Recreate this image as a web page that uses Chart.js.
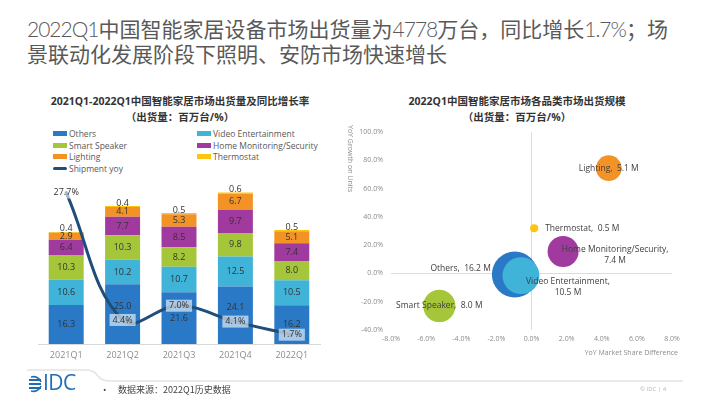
<!DOCTYPE html>
<html><head><meta charset="utf-8">
<script src="https://cdn.jsdelivr.net/npm/chart.js@4"></script>
<style>
body{margin:0;background:#fff;font-family:"Open Sans","Noto Sans CJK SC",sans-serif;}
#page{position:relative;width:710px;height:399px;overflow:hidden;background:#fff;}
.abs{position:absolute;white-space:nowrap;}
.lt{font-family:"Lato","Open Sans",sans-serif;font-weight:300;letter-spacing:-1px;}
.ctitle{font-size:10.5px;font-weight:bold;color:#333;text-align:center;line-height:16px;font-family:"Open Sans","Noto Sans CJK SC",sans-serif;}
.leg{position:absolute;font-size:8.5px;color:#595959;line-height:11px;white-space:nowrap;}
.leg i{position:absolute;left:-16px;top:3px;width:14px;height:5px;}
canvas{position:absolute;}
</style></head><body>
<div id="page">
  <div class="abs" style="left:27px;top:16px;font-size:21px;line-height:24px;color:#595959;font-family:'Noto Sans CJK SC',sans-serif;"><span class="lt">2022Q1</span>中国智能家居设备市场出货量为<span class="lt">4778</span>万台，同比增长<span class="lt">1.7%</span>；场<br>景联动化发展阶段下照明、安防市场快速增长</div>

  <div class="abs ctitle" style="left:0;width:360px;top:93px;">2021Q1-2022Q1中国智能家居市场出货量及同比增长率<br>（出货量：百万台/%）</div>
  <div class="abs ctitle" style="left:337px;width:360px;top:93px;">2022Q1中国智能家居市场各品类市场出货规模<br>（出货量：百万台/%）</div>

  <div id="legend"></div>

  <canvas id="barChart" width="360" height="195" style="left:0;top:170px;"></canvas>
  <canvas id="bubbleChart" width="355" height="225" style="left:355px;top:120px;"></canvas>

  <div class="abs" style="left:348px;top:125px;font-size:7px;color:#8c8c8c;transform-origin:0 0;transform:translate(7px,0) rotate(90deg);">YoY Growth on Units</div>
  <div class="abs" style="right:32px;top:348px;font-size:7px;color:#8c8c8c;">YoY Market Share Difference</div>

  <svg class="abs" style="left:0;top:360px;" width="710" height="39">
    <path d="M27 10 L86 10 Q94 10 98 16 Q102 21 110 21 L683 21" fill="none" stroke="#e3e3e3" stroke-width="1.5"/>
    <g fill="#1f6db3">
      <rect x="29" y="19" width="12" height="2"/>
      <rect x="29" y="23" width="12" height="2"/>
      <rect x="29" y="27" width="12" height="2"/>
    </g>
    <path d="M31 17 A8 8 0 0 1 41 22" fill="none" stroke="#1f6db3" stroke-width="1.6"/>
    <path d="M31 31 A8 8 0 0 0 41 26" fill="none" stroke="#1f6db3" stroke-width="1.6"/>
  </svg>
  <div class="abs" style="left:43px;top:369px;font-size:21px;line-height:26px;color:#1f6db3;font-family:'Open Sans',sans-serif;letter-spacing:-0.5px;">IDC</div>
  <div class="abs" style="left:103px;top:383px;font-size:9px;color:#444;">•</div>
  <div class="abs" style="left:118px;top:383px;font-size:9px;color:#444;font-family:'Noto Sans CJK SC',sans-serif;">数据来源：2022Q1历史数据</div>
  <div class="abs" style="left:640px;top:385px;font-size:6px;color:#b5b5b5;">© IDC | 4</div>
</div>

<script>
// ---------- Left chart data ----------
const quarters = ['2021Q1','2021Q2','2021Q3','2021Q4','2022Q1'];
const others       = [16.3, 25.0, 21.6, 24.1, 16.2];
const videoEnt     = [10.6, 10.2, 10.7, 12.5, 10.5];
const smartSpeaker = [10.3, 10.3, 8.2, 9.8, 8.0];
const homeMonitor  = [6.4, 7.7, 8.5, 9.7, 7.4];
const lighting     = [2.9, 4.1, 5.3, 6.7, 5.1];
const thermostat   = [0.4, 0.4, 0.5, 0.6, 0.5];
const shipmentYoy  = [27.7, 4.4, 7.0, 4.1, 1.7];

const seriesNames = ['Others','Video Entertainment','Smart Speaker','Home Monitoring/Security','Lighting','Thermostat'];
const lineName = 'Shipment yoy';

// ---------- Right chart data ----------
const bubbleCats   = ['Others','Video Entertainment','Smart Speaker','Home Monitoring/Security','Lighting','Thermostat'];
const shareDiff    = [-0.95, -0.6, -5.25, 1.8, 4.4, 0.15];
const unitGrowth   = [-0.7, -1.5, -23.0, 15.5, 74.5, 32.0];
const shipmentM    = [16.2, 10.5, 8.0, 7.4, 5.1, 0.5];

// ---------- Styles ----------
const colors = {
  'Others':'#2a79c6',
  'Video Entertainment':'#3fb3d8',
  'Smart Speaker':'#a6c63a',
  'Home Monitoring/Security':'#a13a9e',
  'Lighting':'#f39325',
  'Thermostat':'#fdc50f'
};
const lineColor = '#1e4e79';
const FONT = '"Open Sans","Noto Sans CJK SC",sans-serif';

// ---------- Legend (HTML) ----------
(function(){
  const leg = document.getElementById('legend');
  const cols = [69, 213];
  const rows = [128, 139.5, 151, 162.5];
  const items = seriesNames.map(n=>({name:n,color:colors[n],line:false}));
  items.push({name:lineName,color:lineColor,line:true});
  items.forEach((it,i)=>{
    const d = document.createElement('div');
    d.className='leg';
    d.style.left = cols[i%2]+'px';
    d.style.top = rows[Math.floor(i/2)]+'px';
    const m = document.createElement('i');
    m.style.background = it.color;
    if(it.line){ m.style.height='3px'; m.style.top='4px'; m.style.borderRadius='2px'; }
    d.appendChild(m);
    d.appendChild(document.createTextNode(it.name));
    leg.appendChild(d);
  });
})();

// ---------- Left chart ----------
const barSeries = [others, videoEnt, smartSpeaker, homeMonitor, lighting, thermostat];
const barDatasets = barSeries.map((arr,i)=>({
  type:'bar',
  label: seriesNames[i],
  data: arr,
  backgroundColor: colors[seriesNames[i]],
  stack:'s',
  yAxisID:'y',
  order:1,
  categoryPercentage:1,
  barPercentage:0.62,
  borderWidth:0
}));
const lineDataset = {
  type:'line',
  label: lineName,
  data: shipmentYoy,
  yAxisID:'y2',
  borderColor: lineColor,
  borderWidth:3,
  pointRadius:0,
  tension:0.4,
  order:0,
  borderCapStyle:'round'
};

const barLabelPlugin = {
  id:'barLabels',
  afterDatasetsDraw(chart){
    const ctx = chart.ctx;
    ctx.save();
    ctx.font = '9px ' + FONT;
    ctx.textAlign='center';
    ctx.textBaseline='middle';
    const lineIdx = chart.data.datasets.length - 1;
    const lineMeta = chart.getDatasetMeta(lineIdx);
    const boxes = lineMeta.data.map((pt,i)=>{
      const txt = shipmentYoy[i].toFixed(1)+'%';
      const w = ctx.measureText(txt).width + 6;
      return {x:pt.x, y:pt.y, w, h:12, txt};
    });
    barSeries.forEach((arr,di)=>{
      const meta = chart.getDatasetMeta(di);
      const above = (di === barSeries.length-1);
      meta.data.forEach((bar,i)=>{
        let y;
        if (above) y = Math.min(bar.y, bar.base) - 3;
        else {
          y = (bar.y + bar.base)/2;
          const b = boxes[i];
          if (Math.abs(y - b.y) < 9) y = b.y - b.h/2 - 8;
        }
        ctx.fillStyle = '#333';
        ctx.fillText(arr[i].toFixed(1), bar.x, y);
      });
    });
    boxes.forEach(b=>{
      ctx.fillStyle='rgba(255,255,255,0.6)';
      ctx.fillRect(b.x - b.w/2, b.y - b.h/2, b.w, b.h);
      ctx.fillStyle='#333';
      ctx.fillText(b.txt, b.x, b.y);
    });
    ctx.restore();
  }
};

new Chart(document.getElementById('barChart'), {
  data:{ labels: quarters, datasets: [...barDatasets, lineDataset] },
  options:{
    responsive:false, animation:false,
    layout:{ autoPadding:false, padding:{ left:38, right:40, top:10, bottom:0 } },
    plugins:{ legend:{display:false}, tooltip:{enabled:false} },
    scales:{
      x:{
        stacked:true,
        grid:{display:false, drawTicks:false},
        border:{display:true, color:'#d9d9d9', width:1},
        ticks:{ color:'#8c8c8c', font:{size:9, family:FONT}, padding:6, maxRotation:0 },
        afterFit(s){ s.height = 21; }
      },
      y:{ stacked:true, display:false, min:0, max:68.6 },
      y2:{ display:false, min:0, max:30 }
    }
  },
  plugins:[barLabelPlugin]
});

// ---------- Right chart ----------
const labelStyle = {
  'Others':{align:'right', dx:-24, dy:-6, lines:1},
  'Video Entertainment':{align:'center', dx:47, dy:6, lines:2},
  'Smart Speaker':{align:'center', dx:0, dy:0, lines:1},
  'Home Monitoring/Security':{align:'center', dx:52, dy:-2, lines:2},
  'Lighting':{align:'center', dx:0, dy:0, lines:1},
  'Thermostat':{align:'left', dx:11, dy:0, lines:1}
};

const bubbleLabelPlugin = {
  id:'bubbleLabels',
  afterDatasetsDraw(chart){
    const ctx = chart.ctx;
    ctx.save();
    ctx.font = '8.5px ' + FONT;
    ctx.fillStyle = '#404040';
    ctx.textBaseline = 'middle';
    const meta = chart.getDatasetMeta(0);
    meta.data.forEach((pt,i)=>{
      const name = bubbleCats[i];
      const st = labelStyle[name];
      const val = shipmentM[i].toFixed(1)+' M';
      const x = pt.x + st.dx, y = pt.y + st.dy;
      if (st.lines === 2) {
        ctx.textAlign = 'center';
        ctx.fillText(name+',', x, y);
        ctx.fillText(val, x, y + 11);
      } else {
        ctx.textAlign = st.align;
        ctx.fillText(name+',  '+val, x, y);
      }
    });
    ctx.restore();
  }
};

const zeroGrid = c => (c.tick && c.tick.value === 0) ? '#dcdcdc' : 'rgba(0,0,0,0)';

new Chart(document.getElementById('bubbleChart'), {
  type:'bubble',
  data:{
    datasets:[{
      data: bubbleCats.map((c,i)=>({x:shareDiff[i], y:unitGrowth[i], r:5.7*Math.sqrt(shipmentM[i])})),
      backgroundColor: bubbleCats.map(c=>colors[c]),
      borderWidth:0,
      hoverRadius:0,
      clip:false
    }]
  },
  options:{
    responsive:false, animation:false,
    layout:{ autoPadding:false, padding:{ left:0, right:38, top:8, bottom:0 } },
    plugins:{ legend:{display:false}, tooltip:{enabled:false} },
    scales:{
      x:{
        type:'linear', min:-8, max:8,
        grid:{ color: zeroGrid, drawTicks:false, lineWidth:1 },
        border:{display:false},
        ticks:{ stepSize:2, color:'#8c8c8c', font:{size:7, family:FONT}, padding:5,
                callback:v=>v.toFixed(1)+'%', maxRotation:0 },
        afterFit(s){ s.height = 15; }
      },
      y:{
        type:'linear', min:-40, max:100,
        grid:{ color: zeroGrid, drawTicks:false, lineWidth:1 },
        border:{display:false},
        ticks:{ stepSize:20, color:'#8c8c8c', font:{size:7, family:FONT}, padding:8,
                callback:v=>v.toFixed(1)+'%' },
        afterFit(s){ s.width = 36; }
      }
    }
  },
  plugins:[bubbleLabelPlugin]
});
</script>
</body></html>
